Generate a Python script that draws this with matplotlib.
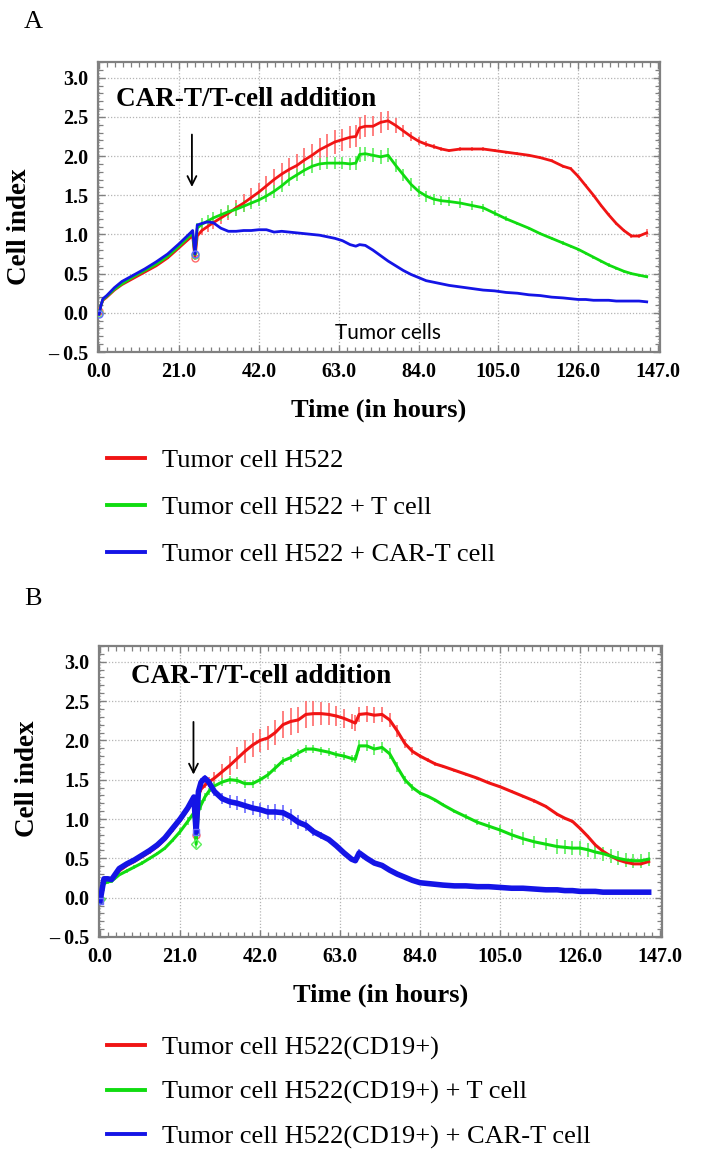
import numpy as np
import matplotlib
matplotlib.use("Agg")
import matplotlib.pyplot as plt
from matplotlib.ticker import MultipleLocator, FixedLocator

# ---------------- data ----------------
tA = [0, 0.5, 1, 2, 4, 6, 9, 12, 15, 18, 21, 24,
      24.6, 25.2, 25.8,
      27, 28.5, 30, 32, 34, 36, 38, 40, 42, 44, 46, 48, 50, 52, 54, 56, 58, 60, 62, 64, 66,
      67.5, 68.5, 70, 72, 74, 76, 78, 80, 82, 84, 86, 88, 90, 92,
      95, 98, 101, 104, 107, 110, 113, 116, 119, 122,
      124, 126, 128, 130, 132, 134, 136, 138, 140, 142, 144]

redA = [0.02, 0.10, 0.16, 0.20, 0.29, 0.36, 0.44, 0.52, 0.60, 0.70, 0.83, 0.96,
        0.98, 0.70, 0.98,
        1.05, 1.10, 1.15, 1.21, 1.27, 1.34, 1.40, 1.47, 1.54, 1.62, 1.70, 1.77, 1.83, 1.88, 1.95, 2.01, 2.08, 2.13, 2.18, 2.21, 2.24,
        2.25, 2.36, 2.38, 2.38, 2.43, 2.45, 2.39, 2.32, 2.25, 2.19, 2.15, 2.12, 2.09, 2.07,
        2.09, 2.09, 2.09, 2.07, 2.05, 2.03, 2.01, 1.98, 1.94, 1.87,
        1.84, 1.74, 1.62, 1.50, 1.37, 1.25, 1.14, 1.05, 0.98, 0.98, 1.02]
redA_err = [0.01] * 12 + [0.03, 0.03, 0.03] + \
    [0.06, 0.07, 0.08, 0.08, 0.09, 0.10, 0.11, 0.12, 0.12, 0.13, 0.13, 0.14, 0.14, 0.15, 0.15, 0.15, 0.15, 0.15, 0.15, 0.14, 0.14] + \
    [0.14, 0.14, 0.14, 0.13, 0.13, 0.12, 0.10, 0.08, 0.06, 0.05, 0.04, 0.03, 0.03, 0.02] + \
    [0.02] * 10 + [0.02] * 10 + [0.05]

greenA = [0.00, 0.10, 0.17, 0.21, 0.30, 0.37, 0.46, 0.54, 0.62, 0.72, 0.85, 0.99,
          1.01, 0.74, 1.08,
          1.13, 1.17, 1.21, 1.25, 1.29, 1.32, 1.36, 1.40, 1.44, 1.49, 1.55, 1.62, 1.70, 1.76, 1.82, 1.87, 1.90, 1.91, 1.91, 1.91, 1.90,
          1.91, 2.02, 2.03, 2.01, 1.99, 2.01, 1.88, 1.76, 1.64, 1.55, 1.49, 1.45, 1.43, 1.42,
          1.40, 1.37, 1.34, 1.27, 1.20, 1.14, 1.08, 1.01, 0.95, 0.89,
          0.85, 0.81, 0.76, 0.71, 0.66, 0.61, 0.57, 0.53, 0.50, 0.48, 0.46]
greenA_err = [0.01] * 10 + [0.02, 0.03] + [0.04, 0.04, 0.06] + [0.08] * 21 + \
    [0.09, 0.09, 0.09, 0.09, 0.09, 0.09, 0.08, 0.08, 0.08, 0.07, 0.07, 0.07, 0.06, 0.06] + \
    [0.06, 0.06, 0.05, 0.04, 0.03, 0.02, 0.02, 0.02, 0.02, 0.02] + [0.02] * 11

blueA = [-0.02, 0.10, 0.18, 0.22, 0.32, 0.40, 0.48, 0.56, 0.65, 0.75, 0.88, 1.02,
         1.05, 0.75, 1.12,
         1.14, 1.16, 1.15, 1.08, 1.04, 1.04, 1.05, 1.05, 1.06, 1.06, 1.03, 1.04, 1.03, 1.02, 1.01, 1.00, 0.99, 0.97, 0.95, 0.92, 0.87,
         0.85, 0.87, 0.86, 0.80, 0.73, 0.66, 0.60, 0.54, 0.49, 0.45, 0.41, 0.39, 0.37, 0.35,
         0.33, 0.31, 0.29, 0.28, 0.26, 0.25, 0.23, 0.22, 0.20, 0.19,
         0.18, 0.17, 0.17, 0.16, 0.16, 0.16, 0.15, 0.15, 0.15, 0.15, 0.14]
blueA_err = [0.01] * 71

tB = [0, 0.5, 1, 2, 3, 4, 5, 7, 9, 11, 13, 15, 17, 19, 21, 23,
      24.6, 25.2, 25.8, 26.5, 27.5, 28.5,
      30, 32, 34, 36, 38, 40, 42, 44, 46, 48, 50, 52, 54, 56, 58, 60, 62, 64, 66,
      67, 68, 70, 72, 74, 76, 78, 80, 82, 84, 86, 88, 90,
      93, 96, 99, 102, 105, 108, 111, 114, 117, 120,
      122, 124, 126, 128, 130, 132, 134, 136, 138, 140, 142, 144]

redB = [-0.02, 0.10, 0.22, 0.23, 0.23, 0.29, 0.34, 0.41, 0.46, 0.52, 0.58, 0.65, 0.74, 0.86, 0.98, 1.12,
        1.25, 0.80, 1.30, 1.38, 1.43, 1.47,
        1.52, 1.60, 1.68, 1.77, 1.86, 1.94, 2.00, 2.03, 2.10, 2.20, 2.24, 2.26, 2.33, 2.34, 2.34, 2.33, 2.31, 2.28, 2.24,
        2.22, 2.33, 2.34, 2.32, 2.33, 2.26, 2.12, 1.96, 1.86, 1.80, 1.75, 1.70, 1.67,
        1.62, 1.57, 1.52, 1.46, 1.41, 1.35, 1.29, 1.23, 1.16, 1.06,
        1.01, 0.97, 0.88, 0.78, 0.67, 0.59, 0.53, 0.48, 0.45, 0.43, 0.43, 0.46]
redB_err = [0.02] * 16 + [0.02, 0.02, 0.02, 0.03, 0.04, 0.06] + \
    [0.08, 0.10, 0.12, 0.14, 0.15, 0.15, 0.15, 0.15, 0.16, 0.17, 0.17, 0.17, 0.17, 0.16, 0.15, 0.14, 0.13, 0.12, 0.10] + \
    [0.10, 0.10, 0.10, 0.10, 0.10, 0.09, 0.08, 0.06, 0.05, 0.03, 0.02, 0.02, 0.02] + \
    [0.02] * 10 + [0.02] * 10 + [0.03, 0.03]

greenB = [-0.02, 0.08, 0.18, 0.20, 0.21, 0.25, 0.29, 0.34, 0.39, 0.44, 0.50, 0.56, 0.63, 0.73, 0.84, 0.97,
          1.08, 0.68, 1.10, 1.18, 1.28, 1.35,
          1.42, 1.47, 1.50, 1.49, 1.45, 1.45, 1.50, 1.56, 1.65, 1.74, 1.78, 1.84, 1.89, 1.89, 1.87, 1.85, 1.82, 1.80, 1.77,
          1.76, 1.93, 1.93, 1.89, 1.91, 1.83, 1.66, 1.50, 1.40, 1.33, 1.29, 1.24, 1.18,
          1.10, 1.03, 0.96, 0.91, 0.86, 0.80, 0.75, 0.71, 0.68, 0.65,
          0.64, 0.63, 0.63, 0.61, 0.58, 0.56, 0.53, 0.50, 0.48, 0.47, 0.47, 0.49]
greenB_err = [0.02] * 14 + [0.04, 0.05] + [0.05, 0.05, 0.06, 0.06, 0.05, 0.05] + [0.05] * 19 + \
    [0.05, 0.07, 0.07, 0.07, 0.07, 0.07, 0.06, 0.05, 0.04, 0.03, 0.02, 0.02, 0.02] + \
    [0.02, 0.03, 0.04, 0.05, 0.06, 0.07, 0.08, 0.08, 0.08, 0.09] + [0.09] * 12

blueB = [-0.04, 0.10, 0.24, 0.24, 0.23, 0.30, 0.37, 0.43, 0.48, 0.54, 0.60, 0.67, 0.76, 0.88, 1.00, 1.14,
         1.28, 0.83, 1.35, 1.47, 1.52, 1.47,
         1.35, 1.26, 1.22, 1.20, 1.17, 1.14, 1.12, 1.09, 1.09, 1.08, 1.03, 0.96, 0.92, 0.84, 0.79, 0.74, 0.66, 0.57, 0.49,
         0.47, 0.57, 0.50, 0.44, 0.41, 0.35, 0.30, 0.26, 0.22, 0.19, 0.18, 0.17, 0.16,
         0.15, 0.15, 0.14, 0.14, 0.13, 0.12, 0.12, 0.11, 0.10, 0.10,
         0.09, 0.09, 0.08, 0.08, 0.08, 0.07, 0.07, 0.07, 0.07, 0.07, 0.07, 0.07]
blueB_err = [0.02] * 16 + [0.02, 0.02, 0.05, 0.05, 0.04, 0.04] + \
    [0.06, 0.07, 0.08, 0.09, 0.09, 0.09, 0.09, 0.09, 0.10, 0.10, 0.10, 0.09, 0.07, 0.05, 0.04, 0.03, 0.03, 0.02, 0.02] + \
    [0.02, 0.05] + [0.02] * 11 + [0.02] * 10 + [0.02] * 12

labelsA = ["Tumor cell H522", "Tumor cell H522 + T cell", "Tumor cell H522 + CAR-T cell"]
labelsB = ["Tumor cell H522(CD19+)", "Tumor cell H522(CD19+) + T cell",
           "Tumor cell H522(CD19+) + CAR-T cell"]
xticks = [0.0, 21.0, 42.0, 63.0, 84.0, 105.0, 126.0, 147.0]
xticklabels = ["0.0", "21.0", "42.0", "63.0", "84.0", "105.0", "126.0", "147.0"]
yticks = [-0.5, 0.0, 0.5, 1.0, 1.5, 2.0, 2.5, 3.0]
yticklabels = ["\u2013 0.5", "0.0", "0.5", "1.0", "1.5", "2.0", "2.5", "3.0"]
addition_label = "CAR-T/T-cell addition"
DIP = [13]   # index of medium-change dip in tA
DIPB = [17]

# ---------------- style ----------------
W, H = 704, 1159
fig = plt.figure(figsize=(W / 100, H / 100), dpi=100)
serif = ["Liberation Serif", "DejaVu Serif"]
RED, GREEN, BLUE = "#f01414", "#10dc10", "#1414e6"
ERED, EGREEN, EBLUE = "#ff6a6a", "#5cf05c", "#6a6aff"
GRAYC = "#808080"


def ax_rect(l, t, r, b):
    return [l / W, 1 - b / H, (r - l) / W, (b - t) / H]


def style_axes(ax):
    ax.set_xlim(-0.3, 147.5)
    ax.set_ylim(-0.5, 3.2)
    ax.xaxis.set_major_locator(FixedLocator(xticks))
    ax.set_xticklabels(xticklabels)
    ax.yaxis.set_major_locator(FixedLocator(yticks))
    ax.set_yticklabels(yticklabels)
    ax.xaxis.set_minor_locator(MultipleLocator(2.1))
    ax.yaxis.set_minor_locator(MultipleLocator(0.1))
    ax.tick_params(which="both", direction="in", top=True, right=True, colors=GRAYC)
    ax.tick_params(which="major", length=5, width=1.0, labelcolor="black", labelsize=14.5, pad=7)
    ax.tick_params(which="minor", length=3.5, width=0.9)
    for lab in ax.get_xticklabels() + ax.get_yticklabels():
        lab.set_family(serif)
        lab.set_fontweight("bold")
    for s in ax.spines.values():
        s.set_color(GRAYC)
        s.set_linewidth(1.6)
    ax.grid(True, which="major", color="#b4b4b4", linestyle=(0, (1, 1.5)), linewidth=0.9)
    ax.set_axisbelow(True)


def draw_panel(ax, t, series, lws, labels, dipidx, markers):
    handles = []
    for (vals, err, c, ec), lw, lab, mk in zip(series, lws, labels, markers):
        ax.errorbar(t, vals, yerr=err, fmt="none", ecolor=ec, elinewidth=1.2, capsize=0, zorder=2)
        ln, = ax.plot(t, vals, color=c, lw=lw, label=lab, zorder=3,
                      marker=mk, markevery=[0] + dipidx, markersize=5, markerfacecolor="none",
                      markeredgecolor=ec, markeredgewidth=1.0, solid_joinstyle="round")
        handles.append(ln)
    return handles


# ---------------- panel A ----------------
axA = fig.add_axes(ax_rect(98, 62, 660, 352))
style_axes(axA)
hA = draw_panel(axA, tA,
                [(redA, redA_err, RED, ERED), (greenA, greenA_err, GREEN, EGREEN), (blueA, blueA_err, BLUE, EBLUE)],
                [2.0, 2.0, 2.0], labelsA, DIP, ["o", "o", "o"])
axA.text(4.5, 2.72, addition_label, family=serif, fontweight="bold", fontsize=19.5, ha="left", va="center")
axA.annotate("", xy=(24.4, 1.57), xytext=(24.4, 2.31),
             arrowprops=dict(arrowstyle="->", color="black", lw=1.3, mutation_scale=16))
axA.text(75.9, -0.26, "Tumor cells", family=["Lato", "DejaVu Sans"], fontsize=15, ha="center", va="center")
axA.set_xlabel("Time (in hours)", family=serif, fontweight="bold", fontsize=19, labelpad=12)
axA.set_ylabel("Cell index", family=serif, fontweight="bold", fontsize=19.5)
axA.yaxis.set_label_coords(-0.117, 0.431)

# ---------------- panel B ----------------
axB = fig.add_axes(ax_rect(99, 646, 662, 937))
style_axes(axB)
hB = draw_panel(axB, tB,
                [(redB, redB_err, RED, ERED), (greenB, greenB_err, GREEN, EGREEN), (blueB, blueB_err, BLUE, EBLUE)],
                [2.2, 2.2, 4.0], labelsB, DIPB, ["o", "D", "s"])
axB.text(8.1, 2.81, addition_label, family=serif, fontweight="bold", fontsize=19.5, ha="left", va="center")
axB.annotate("", xy=(24.5, 1.53), xytext=(24.5, 2.27),
             arrowprops=dict(arrowstyle="->", color="black", lw=1.3, mutation_scale=16))
axB.set_xlabel("Time (in hours)", family=serif, fontweight="bold", fontsize=19, labelpad=12)
axB.set_ylabel("Cell index", family=serif, fontweight="bold", fontsize=19.5)
axB.yaxis.set_label_coords(-0.105, 0.543)

# ---------------- legends ----------------
for handles, labels, ytop, spacing in [(hA, labelsA, 449, 0.88), (hB, labelsB, 1036, 0.78)]:
    leg = fig.legend(handles, labels, loc="upper left", bbox_to_anchor=(107 / W, 1 - ytop / H),
                     frameon=False, borderpad=0, borderaxespad=0, handlelength=1.45,
                     handletextpad=0.62, labelspacing=spacing,
                     prop=dict(family=serif, size=19))
    for ln in leg.get_lines():
        ln.set_linewidth(2.8)
        ln.set_marker("")

fig.text(33 / W, 1 - 22 / H, "A", family=serif, fontsize=19, ha="center", va="center")
fig.text(33 / W, 1 - 599 / H, "B", family=serif, fontsize=19, ha="center", va="center")

fig.savefig("out.png", dpi=100)
